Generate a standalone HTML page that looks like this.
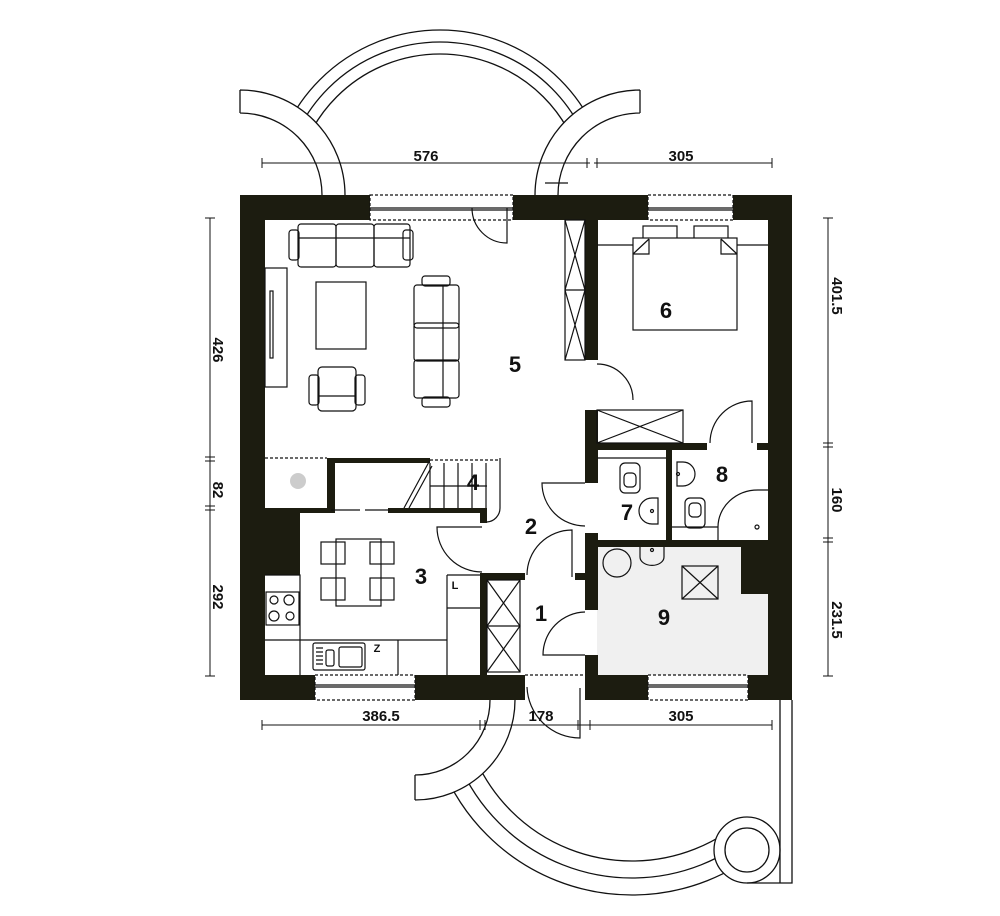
<!DOCTYPE html>
<html><head><meta charset="utf-8"><style>
html,body{margin:0;padding:0;background:#fff}
svg{display:block}
text{font-family:"Liberation Sans",sans-serif;font-weight:bold;fill:#111}
</style></head><body>
<svg width="1000" height="916" viewBox="0 0 1000 916" xmlns="http://www.w3.org/2000/svg">
<defs>
<mask id="mtop"><rect width="1000" height="916" fill="#fff"/><circle cx="240" cy="195" r="105" fill="#000"/><circle cx="640" cy="195" r="105" fill="#000"/><rect x="0" y="150" width="1000" height="800" fill="#000"/></mask>
<mask id="mbot"><rect x="400" y="745" width="345" height="171" fill="#fff"/><circle cx="415" cy="700" r="100" fill="#000"/><circle cx="747" cy="850" r="33" fill="#000"/></mask>
</defs>
<g fill="none" stroke="#111" stroke-width="1.3">
<g mask="url(#mtop)">
<circle cx="440" cy="200" r="170"/><circle cx="440" cy="200" r="158"/><circle cx="440" cy="200" r="146"/>
</g>
<path d="M240 90 A105 105 0 0 1 345 195 M240 113 A82 82 0 0 1 322 195 M240 90 V113"/>
<path d="M640 90 A105 105 0 0 0 535 195 M640 113 A82 82 0 0 0 558 195 M640 90 V113 M545 183 H568"/>
<g mask="url(#mbot)">
<circle cx="632" cy="690" r="205"/><circle cx="632" cy="690" r="188"/><circle cx="632" cy="690" r="171"/>
</g>
<path d="M415 800 A100 100 0 0 0 515 700 M415 775 A75 75 0 0 0 490 700 M415 775 V800"/>
<circle cx="747" cy="850" r="33"/><circle cx="747" cy="850" r="22"/>
<path d="M780 700 V883 H747 M792 700 V883 H780"/>
</g>
<rect x="597" y="547" width="171" height="128" fill="#f0f0f0"/>
<g fill="#1c1c10">
<rect x="240" y="195" width="130" height="25"/>
<rect x="513" y="195" width="135" height="25"/>
<rect x="733" y="195" width="59" height="25"/>
<rect x="240" y="195" width="25" height="505"/>
<rect x="768" y="195" width="24" height="505"/>
<rect x="240" y="675" width="75" height="25"/>
<rect x="415" y="675" width="110" height="25"/>
<rect x="585" y="675" width="63" height="25"/>
<rect x="748" y="675" width="44" height="25"/>
<rect x="585" y="220" width="13" height="140"/>
<rect x="585" y="410" width="13" height="73"/>
<rect x="597" y="443" width="110" height="7"/>
<rect x="757" y="443" width="11" height="7"/>
<rect x="666" y="450" width="6" height="92"/>
<rect x="585" y="540" width="183" height="7"/>
<rect x="585" y="533" width="13" height="77"/>
<rect x="575" y="573" width="10" height="7"/>
<rect x="585" y="655" width="13" height="20"/>
<rect x="741" y="547" width="27" height="47"/>
<rect x="327" y="458" width="103" height="5"/>
<rect x="327" y="458" width="8" height="55"/>
<rect x="265" y="508" width="70" height="5"/>
<rect x="388" y="508" width="99" height="5"/>
<rect x="480" y="508" width="7" height="15"/>
<rect x="265" y="513" width="35" height="62"/>
<rect x="480" y="573" width="45" height="7"/>
<rect x="480" y="573" width="7" height="102"/>
</g>
<g fill="none" stroke="#111" stroke-width="1.2">
<rect x="370" y="195" width="143" height="25" stroke-dasharray="3,2"/>
<path d="M370 208 H513 M370 210 H513"/>
<rect x="648" y="195" width="85" height="25" stroke-dasharray="3,2"/>
<path d="M648 208 H733 M648 210 H733"/>
<rect x="315" y="675" width="100" height="25" stroke-dasharray="3,2"/>
<path d="M315 685 H415 M315 687 H415"/>
<rect x="648" y="675" width="100" height="25" stroke-dasharray="3,2"/>
<path d="M648 685 H748 M648 687 H748"/>
<path d="M525 675 H585" stroke-dasharray="3,2"/>
<path d="M265 458 H327" stroke-dasharray="3,2"/>
<path d="M430 460 H500" stroke-dasharray="3,2"/>
<path d="M472 208 A35 35 0 0 0 507 243 V208"/>
<path d="M597 364 A36 36 0 0 1 633 400"/>
<path d="M710 443 A42 42 0 0 1 752 401 V443"/>
<path d="M718 540 V527 A40 37 0 0 1 758 490 H768"/>
<circle cx="757" cy="527" r="2"/>
<path d="M585 483 H542 A43 43 0 0 0 585 526"/>
<path d="M482 527 H437 A45 45 0 0 0 482 572"/>
<path d="M487 522 A14 14 0 0 0 500 508 V458"/>
<path d="M527 575 A45 45 0 0 1 572 530 V577"/>
<path d="M585 655 H543 A43 43 0 0 1 585 612"/>
<path d="M527 687 A53 53 0 0 0 580 738 V688"/>
<rect x="565" y="220" width="20" height="140"/>
<path d="M565 220 L585 290 L565 360 M585 220 L565 290 L585 360 M565 290 H585"/>
<rect x="597" y="410" width="86" height="33"/>
<path d="M597 410 L683 443 M683 410 L597 443"/>
<rect x="487" y="580" width="33" height="92"/>
<path d="M487 580 L520 626 L487 672 M520 580 L487 626 L520 672 M487 626 H520"/>
<path d="M430 463 V508 M444 463 V508 M458 463 V508 M472 463 V508 M486 463 V508 M430 486 H487"/>
<path d="M404 508 L430 460 M409 508 L432 466"/>
<path d="M331 510 H360 M365 510 H390"/>
<rect x="289" y="230" width="10" height="30" rx="3"/>
<rect x="403" y="230" width="10" height="30" rx="3"/>
<rect x="298" y="224" width="38" height="43" rx="3"/>
<rect x="336" y="224" width="38" height="43" rx="3"/>
<rect x="374" y="224" width="36" height="43" rx="3"/>
<path d="M298 238 H410"/>
<rect x="422" y="276" width="28" height="10" rx="3"/>
<rect x="422" y="397" width="28" height="10" rx="3"/>
<rect x="414" y="285" width="45" height="43" rx="3"/>
<rect x="414" y="323" width="45" height="38" rx="3"/>
<rect x="414" y="360" width="45" height="38" rx="3"/>
<path d="M443 285 V398"/>
<rect x="316" y="282" width="50" height="67"/>
<rect x="265" y="268" width="22" height="119"/>
<rect x="270" y="291" width="3" height="67"/>
<rect x="309" y="375" width="10" height="30" rx="3"/>
<rect x="355" y="375" width="10" height="30" rx="3"/>
<rect x="318" y="367" width="38" height="44" rx="4"/>
<path d="M318 396 H356"/>
<circle cx="298" cy="481" r="8" fill="#ccc" stroke="none"/>
<rect x="336" y="539" width="45" height="67"/>
<rect x="321" y="542" width="24" height="22"/><rect x="370" y="542" width="24" height="22"/>
<rect x="321" y="578" width="24" height="22"/><rect x="370" y="578" width="24" height="22"/>
<path d="M265 575 H300 V640 M265 640 H447 M300 640 V675 M398 640 V675 M447 575 H480 M447 575 V675 M447 608 H480"/>
<rect x="266" y="592" width="33" height="33"/>
<circle cx="274" cy="600" r="4"/><circle cx="289" cy="600" r="5"/><circle cx="274" cy="616" r="5"/><circle cx="290" cy="616" r="4"/>
<rect x="313" y="643" width="52" height="27" rx="2"/>
<rect x="326" y="650" width="8" height="16" rx="2"/><rect x="339" y="647" width="23" height="20" rx="2"/>
<path d="M316 648 H323 M316 652 H323 M316 656 H323 M316 660 H323 M316 664 H323"/>
<path d="M597 245 H633 M737 245 H768"/>
<rect x="643" y="226" width="34" height="22"/><rect x="694" y="226" width="34" height="22"/>
<rect x="633" y="238" width="104" height="92" fill="#fff"/>
<path d="M633 254 L649 239 M737 254 L721 239 M633 254 H649 V239 M737 254 H721 V239"/>
<path d="M597 458 H666 M672 527 H718"/>
<rect x="620" y="463" width="20" height="30" rx="5"/><rect x="624" y="473" width="12" height="14" rx="4"/>
<path d="M652 498 a11 11 0 0 0 0 26 h6 v-26 z"/><circle cx="652" cy="511" r="1.5"/>
<path d="M677 462 h6 a11 11 0 0 1 0 24 h-6 z"/><circle cx="678" cy="474" r="1.5"/>
<rect x="685" y="498" width="20" height="30" rx="5"/><rect x="689" y="503" width="12" height="14" rx="4"/>
<path d="M640 547 v10 a10 7 0 0 0 24 0 v-10"/><circle cx="652" cy="550" r="1.5"/>
<circle cx="617" cy="563" r="14"/>
<rect x="682" y="566" width="36" height="33"/><path d="M682 566 L718 599 M718 566 L682 599"/>
</g>
<g stroke="#111" stroke-width="1" fill="none">
<path d="M262 163 H590 M594 163 H772"/>
<path d="M262 158 V168 M587 158 V168 M597 158 V168 M772 158 V168"/>
<path d="M210 218 V676 M205 218 H215 M205 457 H215 M205 461 H215 M205 506 H215 M205 510 H215 M205 676 H215"/>
<path d="M828 218 V676 M823 218 H833 M823 443 H833 M823 447 H833 M823 538 H833 M823 542 H833 M823 676 H833"/>
<path d="M262 725 H772 M262 720 V730 M480 720 V730 M485 720 V730 M578 720 V730 M590 720 V730 M772 720 V730"/>
</g>
<g font-size="15" text-anchor="middle">
<text x="426" y="161">576</text>
<text x="681" y="161">305</text>
<text x="381" y="721">386.5</text>
<text x="541" y="721">178</text>
<text x="681" y="721">305</text>
<text transform="translate(213,350) rotate(90)">426</text>
<text transform="translate(213,490) rotate(90)">82</text>
<text transform="translate(213,597) rotate(90)">292</text>
<text transform="translate(832,296) rotate(90)">401.5</text>
<text transform="translate(832,500) rotate(90)">160</text>
<text transform="translate(832,620) rotate(90)">231.5</text>
</g>
<g font-size="22" text-anchor="middle">
<text x="515" y="372">5</text>
<text x="666" y="318">6</text>
<text x="473" y="490">4</text>
<text x="531" y="534">2</text>
<text x="421" y="584">3</text>
<text x="541" y="621">1</text>
<text x="627" y="520">7</text>
<text x="722" y="482">8</text>
<text x="664" y="625">9</text>
</g>
<g font-size="11" text-anchor="middle">
<text x="455" y="589">L</text>
<text x="377" y="652">Z</text>
</g>
</svg>
</body></html>
